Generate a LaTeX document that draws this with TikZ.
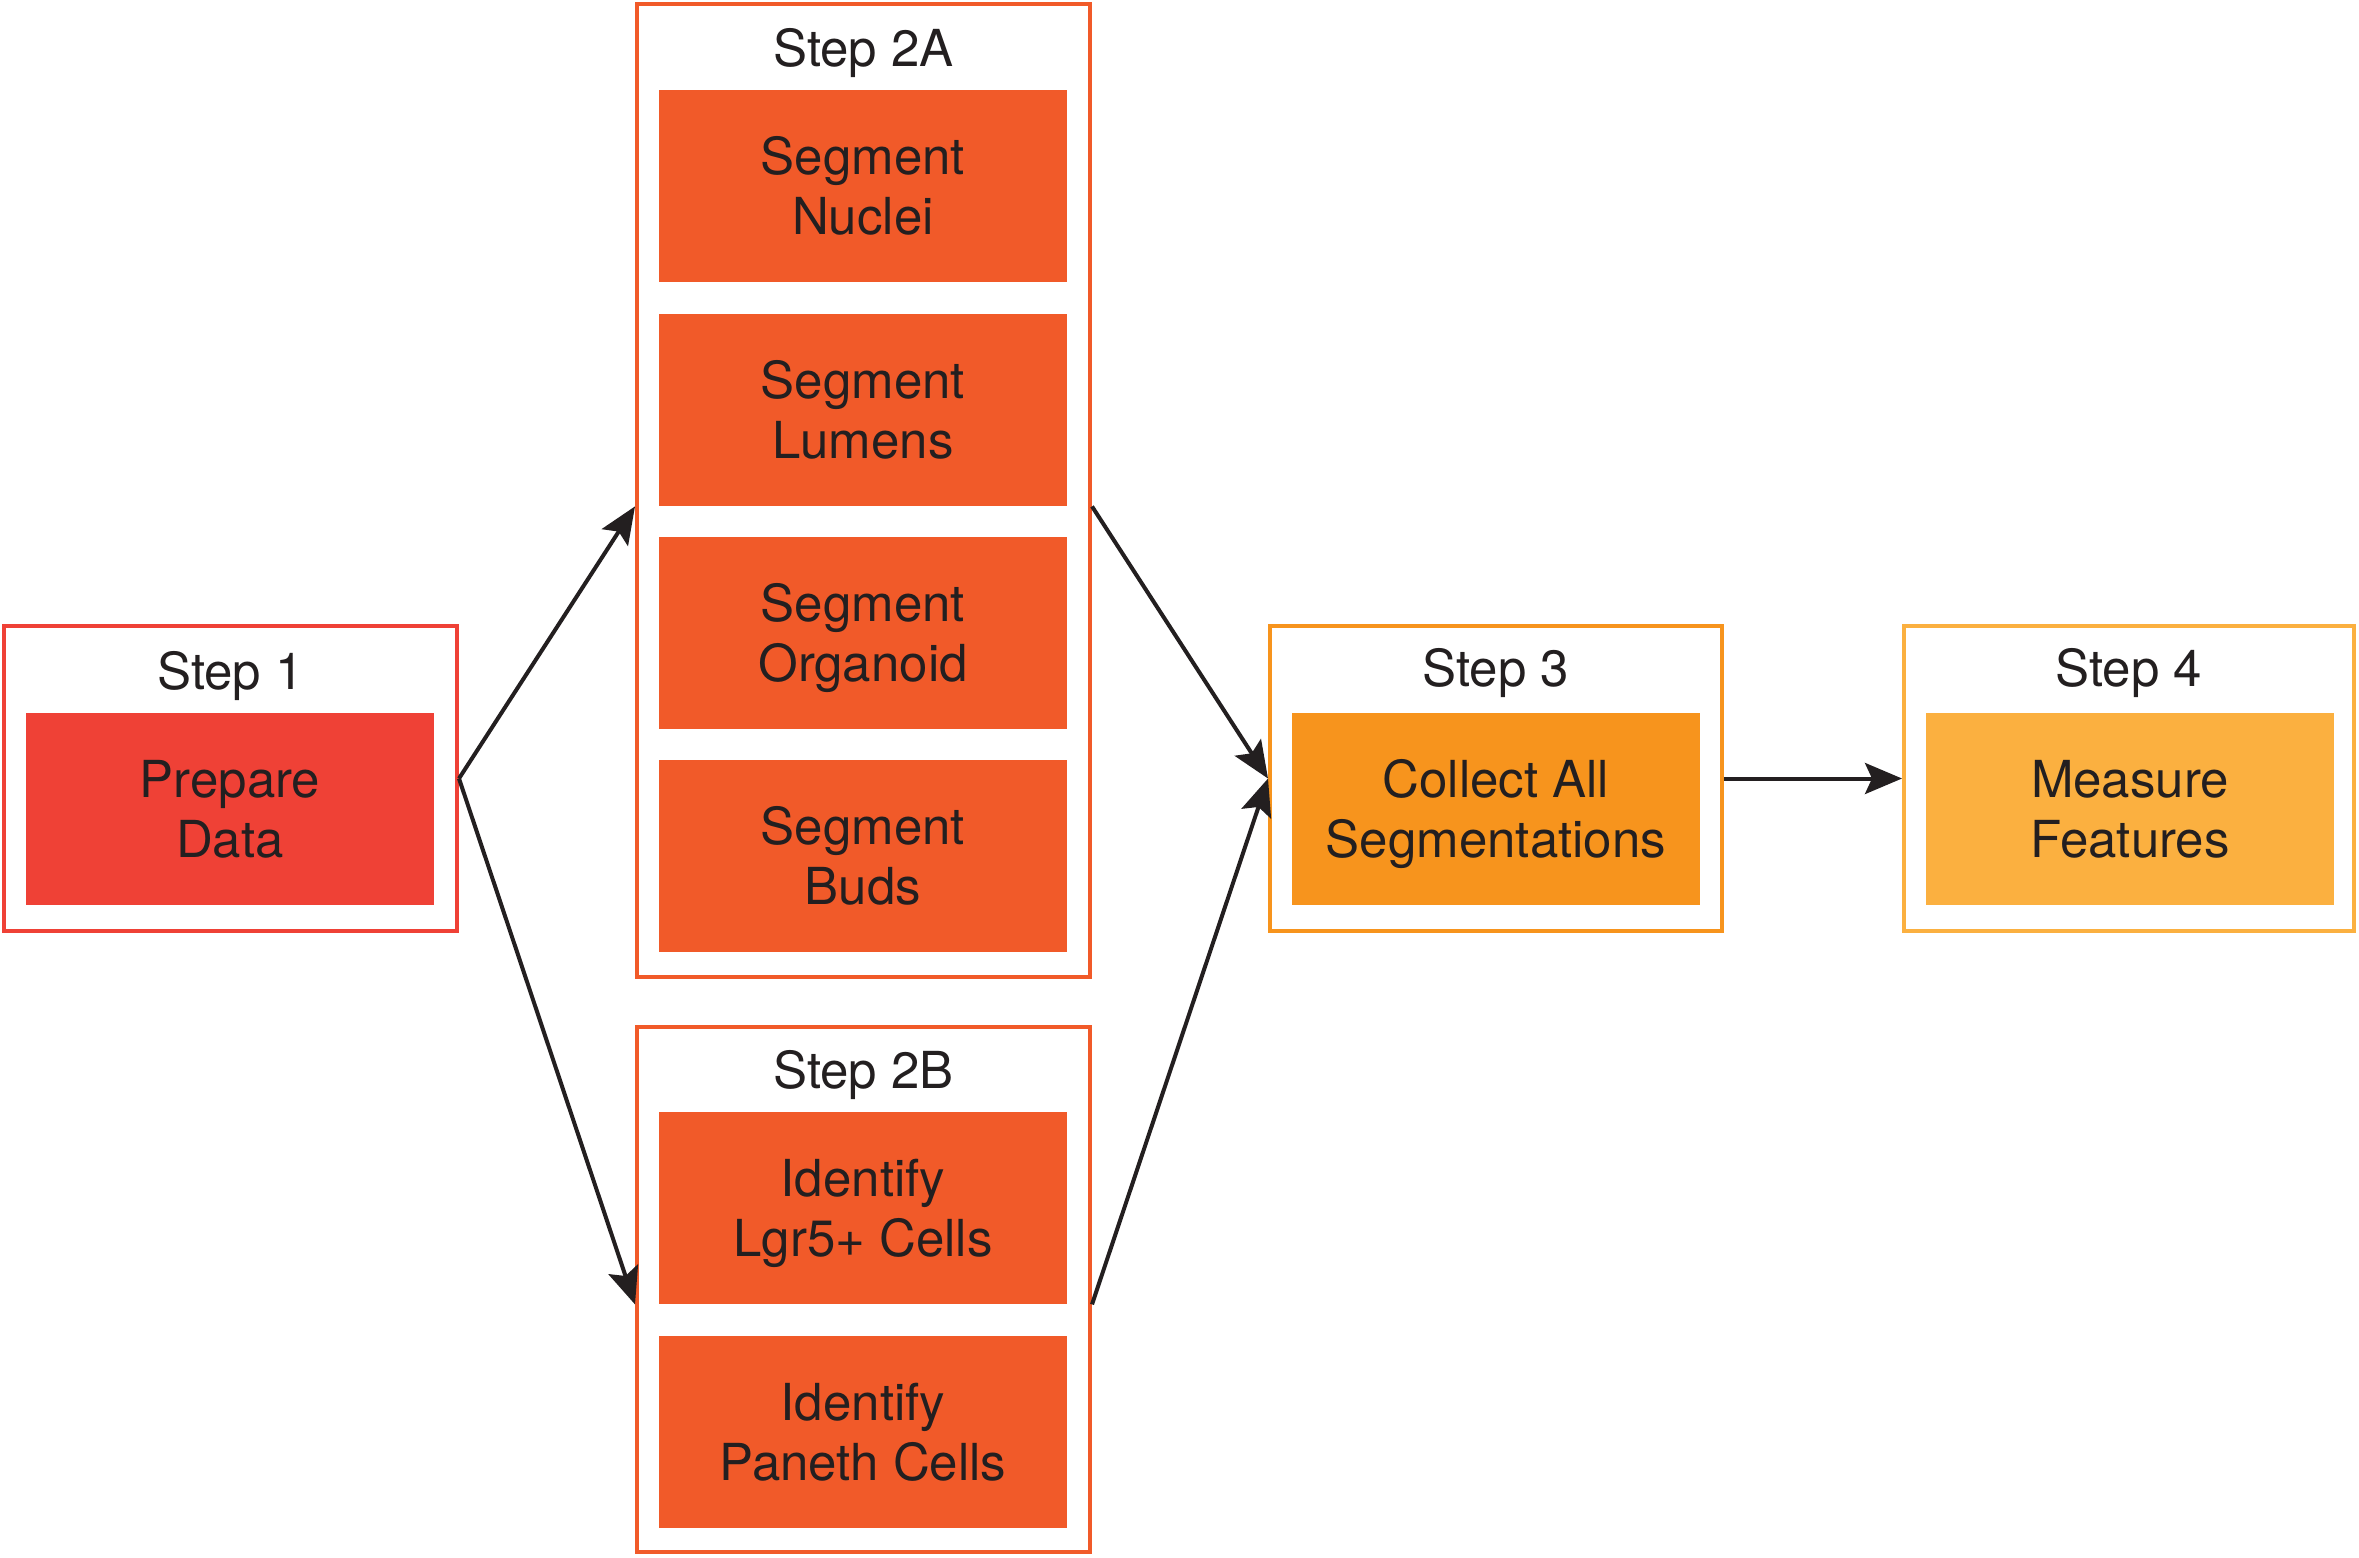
\documentclass[tikz,border=0pt]{standalone}
\usepackage{fontspec}
\setmainfont{TeX Gyre Heros}
\usetikzlibrary{arrows.meta}
\definecolor{cone}{HTML}{EF4136}
\definecolor{ctwo}{HTML}{F15A29}
\definecolor{cthree}{HTML}{F7941D}
\definecolor{cfour}{HTML}{FBB040}
\definecolor{ink}{HTML}{231F20}
\begin{document}
\begin{tikzpicture}[x=0.5pt,y=-0.5pt,
  frame/.style={draw, line width=2pt, fill=white, inner sep=0pt},
  task/.style={inner sep=0pt, minimum width=204pt, minimum height=96pt, text=ink, align=center,
     text height=48.4pt, text depth=0pt, font=\fontsize{25.5}{30}\selectfont},
  head/.style={anchor=base, text=ink, inner sep=0pt, font=\fontsize{25.5}{30}\selectfont},
  conn/.style={draw=ink, line width=2pt, -{Stealth[length=18.5pt,width=15.5pt,inset=3.5pt]}}]
\useasboundingbox (0,0) rectangle (2359,1557);
% frames
\node[frame, draw=cone, minimum width=226.5pt, minimum height=152.5pt] (s1) at (230.5,778.5) {};
\node[frame, draw=ctwo, minimum width=226.5pt, minimum height=486.5pt] (s2a) at (863.5,490.5) {};
\node[frame, draw=ctwo, minimum width=226.5pt, minimum height=262.5pt] (s2b) at (863.5,1289.5) {};
\node[frame, draw=cthree, minimum width=226pt, minimum height=152.5pt] (s3) at (1496,778.5) {};
\node[frame, draw=cfour, minimum width=225pt, minimum height=152.5pt] (s4) at (2129,778.5) {};
% headers
\node[head] (h1) at (230.5,689) {Step 1};
\node[head] (h2a) at (863.5,67) {Step 2A};
\node[head] (h2b) at (863.5,1088) {Step 2B};
\node[head] (h3) at (1496,686) {Step 3};
\node[head] (h4) at (2129,686) {Step 4};
% tasks
\node[task, fill=cone] (prep) at (230,809) {Prepare\\Data};
\node[task, fill=ctwo] (nuc) at (863,186) {Segment\\Nuclei};
\node[task, fill=ctwo] (lum) at (863,410) {Segment\\Lumens};
\node[task, fill=ctwo] (org) at (863,633) {Segment\\Organoid};
\node[task, fill=ctwo] (bud) at (863,856) {Segment\\Buds};
\node[task, fill=ctwo] (lgr) at (863,1208) {Identify\\Lgr5+ Cells};
\node[task, fill=ctwo] (pan) at (863,1432) {Identify\\Paneth Cells};
\node[task, fill=cthree] (col) at (1496,809) {Collect All\\Segmentations};
\node[task, fill=cfour] (mea) at (2130,809) {Measure\\Features};
% connectors
\draw[conn] (s1.east) -- (s2a.west |- lum.south);
\draw[conn] (s1.east) -- (s2b.west |- lgr.south);
\draw[conn] (s2a.east |- lum.south) -- (s3.west);
\draw[conn] (s2b.east |- lgr.south) -- (s3.west);
\draw[conn] (s3.east) -- (s4.west);
\end{tikzpicture}
\end{document}
